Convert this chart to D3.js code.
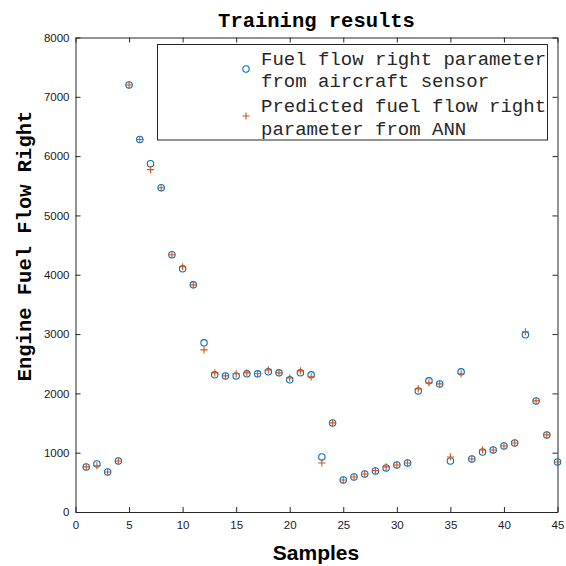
<!DOCTYPE html>
<html><head><meta charset="utf-8">
<script src="https://cdn.jsdelivr.net/npm/d3@7"></script>
<style>body{margin:0;background:#fff}svg{display:block}</style>
</head><body>
<svg id="c" width="566" height="566"></svg>
<script>
const samples = d3.range(1, 46);
const actual = [760,810,675,860,7200,6280,5873,5468,4338,4100,3830,2852,2312,2295,2295,2330,2330,2363,2346,2228,2346,2312,928,1502,540,590,641,692,743,793,827,2042,2211,2160,860,2363,894,1012,1046,1113,1164,2987,1873,1300,843];
const predicted = [760,780,675,860,7200,6280,5772,5468,4338,4135,3830,2734,2346,2295,2330,2346,2330,2396,2346,2262,2380,2278,827,1502,540,590,641,700,760,793,827,2076,2177,2160,928,2330,894,1046,1046,1113,1164,3038,1873,1300,843];
const xTicks = [0,5,10,15,20,25,30,35,40,45];
const yTicks = [0,1000,2000,3000,4000,5000,6000,7000,8000];
const legendLines = [["Fuel flow right parameter","from aircraft sensor"],["Predicted fuel flow right","parameter from ANN"]];

const svg = d3.select("#c");
const L = 75.5, R = 557.5, T = 37.5, B = 512;
const x = d3.scaleLinear().domain([0,45]).range([L,R]);
const y = d3.scaleLinear().domain([0,8000]).range([B,T]);
const ax = "#262626";
const tl = 5;

// axes
const gx = svg.append("g").attr("transform",`translate(0,${B})`)
  .call(d3.axisBottom(x).tickValues(xTicks).tickFormat(d3.format("d")).tickSizeInner(-tl).tickSizeOuter(0).tickPadding(9));
const gy = svg.append("g").attr("transform",`translate(${L},0)`)
  .call(d3.axisLeft(y).tickValues(yTicks).tickFormat(d3.format("d")).tickSizeInner(-tl).tickSizeOuter(0).tickPadding(6));
const gt = svg.append("g").attr("transform",`translate(0,${T})`)
  .call(d3.axisTop(x).tickValues(xTicks).tickSizeInner(-tl).tickSizeOuter(0).tickFormat(""));
const gr = svg.append("g").attr("transform",`translate(${R},0)`)
  .call(d3.axisRight(y).tickValues(yTicks).tickSizeInner(-tl).tickSizeOuter(0).tickFormat(""));
[gx,gy,gt,gr].forEach(g=>{
  g.selectAll("path").attr("stroke",ax).attr("stroke-width",1);
  g.selectAll("line").attr("stroke",ax).attr("stroke-width",1);
  g.selectAll("text").attr("fill","#1a1a1a").style("font-family","'Liberation Sans', Arial, sans-serif").style("font-size","11.5px");
});

// markers
svg.append("g").selectAll("circle").data(samples).join("circle")
  .attr("cx",(d)=>x(d)).attr("cy",(d,i)=>y(actual[i])).attr("r",3.2)
  .attr("fill","none").attr("stroke","#0072BD").attr("stroke-width",1.1);
const ps = 3.6;
svg.append("g").selectAll("path").data(samples).join("path")
  .attr("d",(d,i)=>{const cx=x(d), cy=y(predicted[i]);return `M${cx-ps},${cy}H${cx+ps}M${cx},${cy-ps}V${cy+ps}`;})
  .attr("stroke","#D95319").attr("stroke-width",1.1).attr("fill","none");

// title and labels
svg.append("text").attr("x",(L+R)/2).attr("y",27).attr("text-anchor","middle")
  .style("font-family","'Liberation Mono', 'Courier New', monospace").style("font-weight","bold").style("font-size","20.5px")
  .attr("fill","#000").text("Training results");
svg.append("text").attr("transform",`translate(31,246) rotate(-90)`).attr("text-anchor","middle")
  .style("font-family","'Liberation Mono', 'Courier New', monospace").style("font-weight","bold").style("font-size","20.5px")
  .attr("fill","#000").text("Engine Fuel Flow Right");
svg.append("text").attr("x",316).attr("y",560).attr("text-anchor","middle")
  .style("font-family","'Liberation Sans', Arial, sans-serif").style("font-weight","bold").style("font-size","21px")
  .attr("fill","#000").text("Samples");

// legend
const lg = svg.append("g");
lg.append("rect").attr("x",157.5).attr("y",44.5).attr("width",390).attr("height",95.5)
  .attr("fill","#fff").attr("stroke",ax).attr("stroke-width",1);
lg.append("circle").attr("cx",246).attr("cy",69).attr("r",3.2).attr("fill","none").attr("stroke","#0072BD").attr("stroke-width",1.1);
lg.append("path").attr("d",`M${246-ps},116H${246+ps}M246,${116-ps}V${116+ps}`).attr("stroke","#D95319").attr("stroke-width",1.1);
const baselines = [[65,87],[112,135]];
legendLines.forEach((lines,k)=>{
  lines.forEach((t,j)=>{
    lg.append("text").attr("x",261).attr("y",baselines[k][j])
      .style("font-family","'Liberation Mono', 'Courier New', monospace").style("font-size","19px")
      .attr("fill","#262626").text(t);
  });
});
</script>
</body></html>
